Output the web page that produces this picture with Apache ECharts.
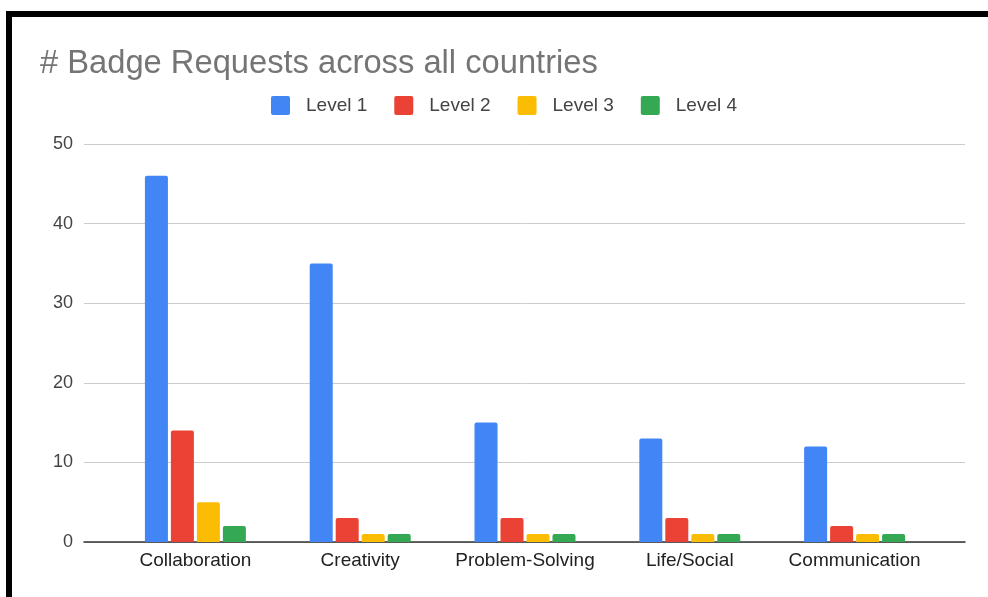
<!DOCTYPE html>
<html><head><meta charset="utf-8">
<script src="https://cdn.jsdelivr.net/npm/echarts@6/dist/echarts.min.js"></script>
<style>html,body{margin:0;padding:0;background:#fff}#c{width:988px;height:597px}</style>
</head><body><div id="c"></div>
<script>
const categories = ['Collaboration','Creativity','Problem-Solving','Life/Social','Communication'];
const seriesNames = ['Level 1','Level 2','Level 3','Level 4'];
const level1 = [46, 35, 15, 13, 12];
const level2 = [14, 3, 3, 3, 2];
const level3 = [5, 1, 1, 1, 1];
const level4 = [2, 1, 1, 1, 1];
const yTicks = [0, 10, 20, 30, 40, 50];
const colors = ['#4285F4','#EA4335','#FBBC04','#34A853'];
const values = [level1, level2, level3, level4];

const chart = echarts.init(document.getElementById('c'), null, {renderer:'canvas'});
const font = '"Liberation Sans", Arial, sans-serif';
chart.setOption({
  animation:false,
  color: colors,
  title:{text:'# Badge Requests across all countries', left:35, top:42,
    textStyle:{fontFamily:font, fontSize:32.7, fontWeight:'normal', color:'#757575'}},
  legend:{data:seriesNames, left:271, top:96, padding:0, itemWidth:19, itemHeight:19, itemGap:27,
    icon:'path://M2,0 L17,0 Q19,0 19,2 L19,17 Q19,19 17,19 L2,19 Q0,19 0,17 L0,2 Q0,0 2,0 Z',
    textStyle:{fontFamily:font, fontSize:19, color:'#444', padding:[0,0,0,11]}},
  graphic:[
    {type:'rect', shape:{x:6, y:11, width:990, height:6}, style:{fill:'#000'}},
    {type:'rect', shape:{x:6, y:11, width:6, height:600}, style:{fill:'#000'}}
  ],
  grid:[
    {left:113, right:51, top:144, bottom:55},
    {left:84, right:23, top:144, bottom:55}
  ],
  xAxis:[
    {type:'category', gridIndex:0, data:categories, axisLine:{show:false}, axisTick:{show:false},
      axisLabel:{fontFamily:font, fontSize:19, color:'#222', margin:9, interval:0}},
    {type:'value', gridIndex:1, min:0, max:1, axisLine:{show:true, onZero:false, lineStyle:{color:'#333', width:1.5}},
      axisTick:{show:false}, axisLabel:{show:false}, splitLine:{show:false}}
  ],
  yAxis:[
    {type:'value', gridIndex:0, min:0, max:50, interval:10, show:false, splitLine:{show:false}},
    {type:'value', gridIndex:1, min:yTicks[0], max:yTicks[yTicks.length-1], interval:10,
      axisLine:{show:false}, axisTick:{show:false},
      axisLabel:{fontFamily:font, fontSize:18, color:'#444', margin:11},
      splitLine:{lineStyle:{color:'#cccccc', width:1}}}
  ],
  series: seriesNames.map((n,i)=>({
    name:n, type:'bar', xAxisIndex:0, yAxisIndex:0, data:values[i],
    barWidth:23, barGap:'13%', itemStyle:{color:colors[i], borderRadius:[2,2,0,0]}
  }))
});
</script></body></html>
